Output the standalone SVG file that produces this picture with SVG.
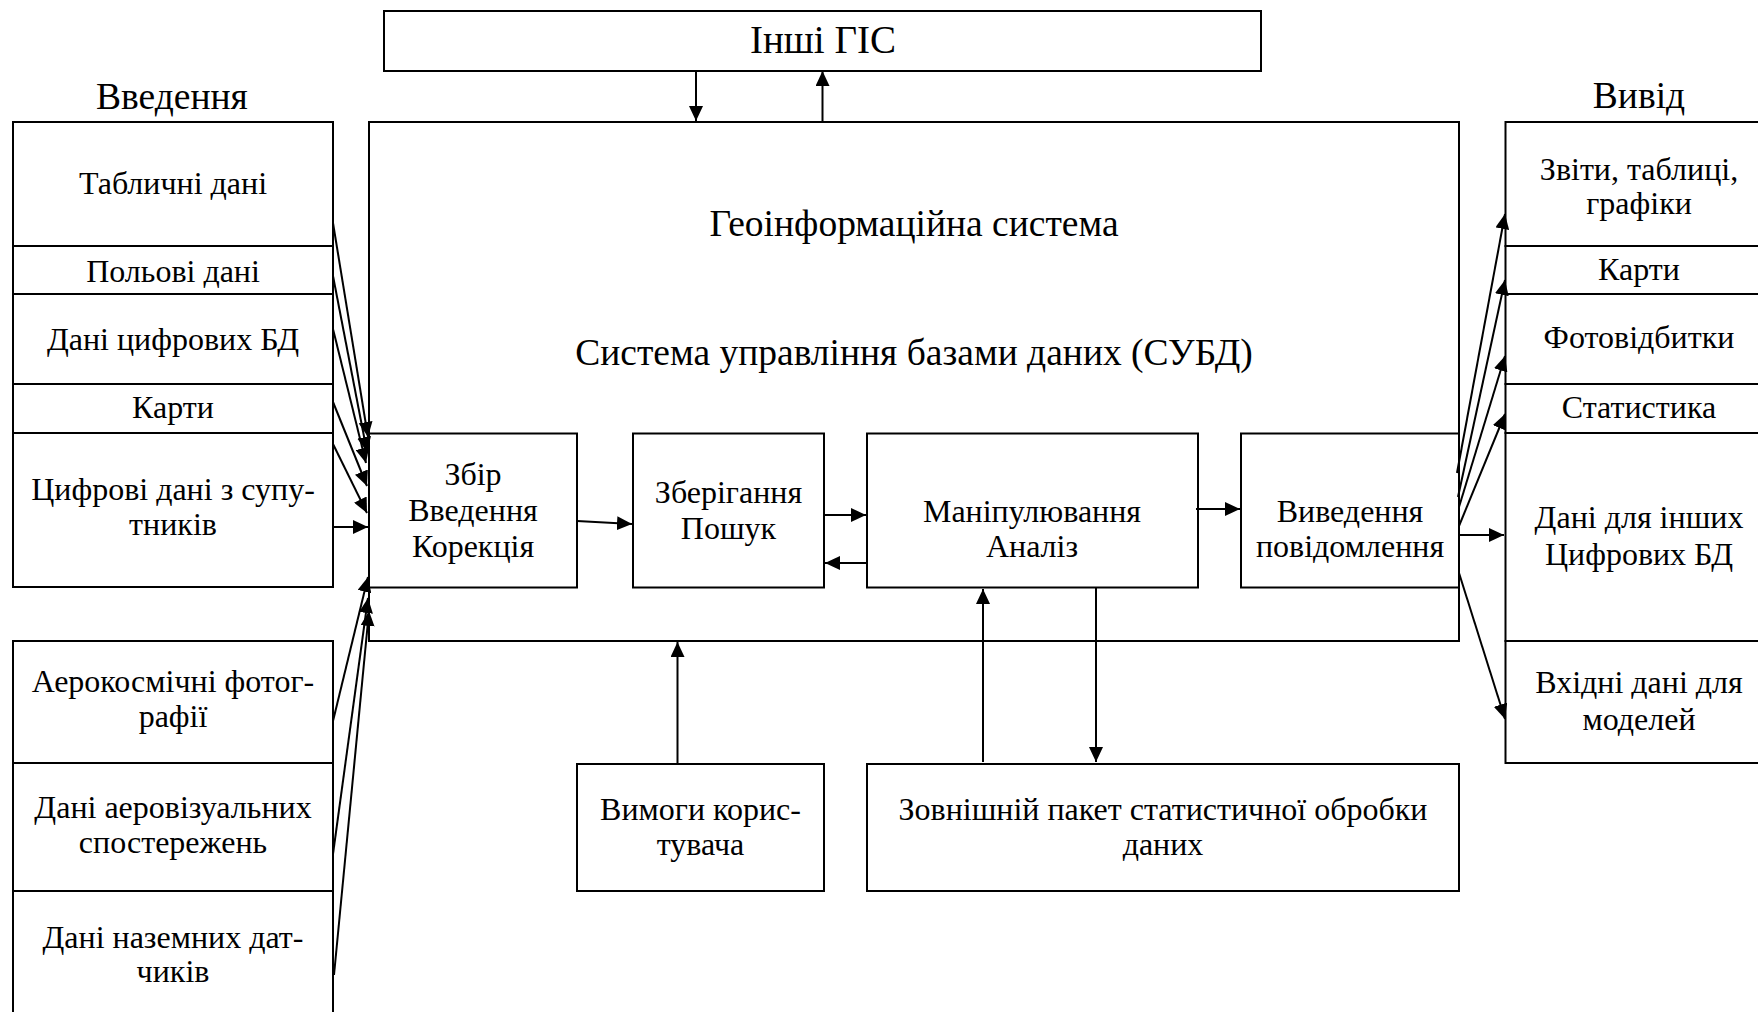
<svg xmlns="http://www.w3.org/2000/svg" width="1758" height="1012" viewBox="0 0 1758 1012">
<style>
.box{fill:#fff;stroke:#000;stroke-width:2}
.main{fill:none;stroke:#000;stroke-width:2}
text{font-family:"Liberation Serif","Times New Roman",serif;fill:#000;text-anchor:middle}
.t{font-size:32px}
.h{font-size:37.5px}
.c line{stroke:#000;stroke-width:2;marker-end:url(#ah)}
</style>
<defs>
<marker id="ah" markerUnits="userSpaceOnUse" markerWidth="15" markerHeight="14" refX="15" refY="7" orient="auto">
<path d="M0,0 L15,7 L0,14 z" fill="#000"/>
</marker>
</defs>
<rect width="1758" height="1012" fill="#fff"/>

<g id="headers">
<text class="h" x="172" y="109">Введення</text>
<text class="h" x="1639" y="108">Вивід</text>
</g>

<g id="other-gis">
<rect class="box" x="384" y="11" width="877" height="60"/>
<text class="h" x="823" y="53" style="font-size:39px">Інші ГІС</text>
</g>

<g id="gis">
<rect class="main" x="369" y="122" width="1090" height="519"/>
<text class="h" x="914" y="236">Геоінформаційна система</text>
<text class="h" x="914" y="365">Система управління базами даних (СУБД)</text>
</g>

<g id="in-tabular"><rect class="box" x="13" y="122" width="320" height="124"/><text class="t" x="173" y="194">Табличні дані</text></g>
<g id="in-field"><rect class="box" x="13" y="246" width="320" height="48"/><text class="t" x="173" y="282">Польові дані</text></g>
<g id="in-digital-db"><rect class="box" x="13" y="294" width="320" height="90"/><text class="t" x="173" y="350">Дані цифрових БД</text></g>
<g id="in-maps"><rect class="box" x="13" y="384" width="320" height="49"/><text class="t" x="173" y="418">Карти</text></g>
<g id="in-satellite"><rect class="box" x="13" y="433" width="320" height="154"/><text class="t" x="173" y="500">Цифрові дані з супу-</text><text class="t" x="173" y="535">тників</text></g>
<g id="in-aerospace"><rect class="box" x="13" y="641" width="320" height="122"/><text class="t" x="173" y="692">Аерокосмічні фотог-</text><text class="t" x="173" y="727">рафії</text></g>
<g id="in-aerovisual"><rect class="box" x="13" y="763" width="320" height="128"/><text class="t" x="173" y="818">Дані аеровізуальних</text><text class="t" x="173" y="853">спостережень</text></g>
<g id="in-ground"><rect class="box" x="13" y="891" width="320" height="140"/><text class="t" x="173" y="948">Дані наземних дат-</text><text class="t" x="173" y="982">чиків</text></g>

<g id="collect"><rect class="box" x="369" y="433.5" width="208" height="154"/><text class="t" x="473" y="485">Збір</text><text class="t" x="473" y="521">Введення</text><text class="t" x="473" y="557">Корекція</text></g>
<g id="storage"><rect class="box" x="633" y="433.5" width="191" height="154"/><text class="t" x="728.5" y="503">Зберігання</text><text class="t" x="728.5" y="539">Пошук</text></g>
<g id="manip"><rect class="box" x="867" y="433.5" width="331" height="154"/><text class="t" x="1032" y="522">Маніпулювання</text><text class="t" x="1032" y="557">Аналіз</text></g>
<g id="output"><rect class="box" x="1241" y="433.5" width="218" height="154"/><text class="t" x="1350" y="522">Виведення</text><text class="t" x="1350" y="557">повідомлення</text></g>

<g id="user-req"><rect class="box" x="577" y="764" width="247" height="127"/><text class="t" x="700.5" y="820">Вимоги корис-</text><text class="t" x="700.5" y="855">тувача</text></g>
<g id="stat-pack"><rect class="box" x="867" y="764" width="592" height="127"/><text class="t" x="1163" y="820">Зовнішній пакет статистичної обробки</text><text class="t" x="1163" y="855">даних</text></g>

<g id="out-reports"><rect class="box" x="1505.5" y="122" width="267" height="124"/><text class="t" x="1639" y="180">Звіти, таблиці,</text><text class="t" x="1639" y="214">графіки</text></g>
<g id="out-maps"><rect class="box" x="1505.5" y="246" width="267" height="48"/><text class="t" x="1639" y="280">Карти</text></g>
<g id="out-photo"><rect class="box" x="1505.5" y="294" width="267" height="90"/><text class="t" x="1639" y="348">Фотовідбитки</text></g>
<g id="out-stat"><rect class="box" x="1505.5" y="384" width="267" height="49"/><text class="t" x="1639" y="418">Статистика</text></g>
<g id="out-other-db"><rect class="box" x="1505.5" y="433" width="267" height="208"/><text class="t" x="1639" y="528">Дані для інших</text><text class="t" x="1639" y="565">Цифрових БД</text></g>
<g id="out-models"><rect class="box" x="1505.5" y="641" width="267" height="122"/><text class="t" x="1639" y="693">Вхідні дані для</text><text class="t" x="1639" y="730">моделей</text></g>

<g id="connectors" class="c">
<line x1="696" y1="71" x2="696" y2="121"/>
<line x1="822.5" y1="122" x2="822.5" y2="71"/>
<line x1="333" y1="223" x2="368" y2="437"/>
<line x1="333" y1="276" x2="367" y2="452"/>
<line x1="333" y1="329" x2="366" y2="463"/>
<line x1="333" y1="402" x2="367" y2="486"/>
<line x1="333" y1="444" x2="367" y2="513"/>
<line x1="333" y1="527" x2="368" y2="527"/>
<line x1="333" y1="721" x2="368" y2="577"/>
<line x1="333" y1="854" x2="368" y2="598"/>
<line x1="334" y1="975" x2="369" y2="611"/>
<line x1="577" y1="521" x2="632" y2="524"/>
<line x1="824" y1="515" x2="866" y2="515"/>
<line x1="867" y1="563" x2="825" y2="563"/>
<line x1="1196" y1="509" x2="1240" y2="509"/>
<line x1="677.5" y1="764" x2="677.5" y2="642"/>
<line x1="983" y1="762" x2="983" y2="589"/>
<line x1="1096" y1="588" x2="1096" y2="762"/>
<line x1="1457" y1="473" x2="1505" y2="214"/>
<line x1="1458" y1="497" x2="1505" y2="280"/>
<line x1="1459" y1="507" x2="1505" y2="356"/>
<line x1="1459" y1="526" x2="1505" y2="414"/>
<line x1="1459" y1="535" x2="1504" y2="535"/>
<line x1="1459" y1="573" x2="1505" y2="719"/>
</g>
</svg>
